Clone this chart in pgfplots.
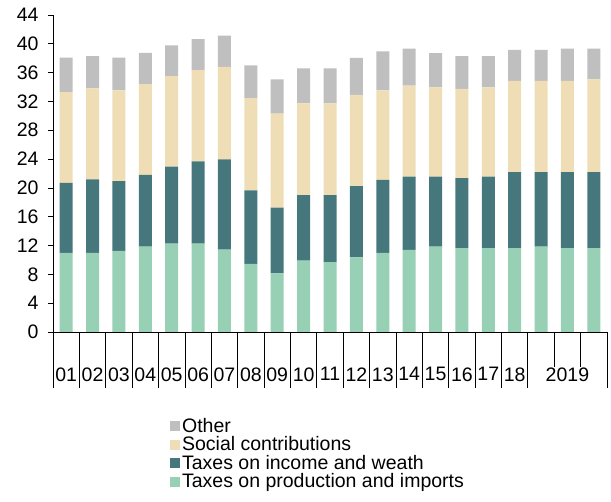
\documentclass[border=0pt]{standalone}
\usepackage{fontspec}
\setmainfont{Liberation Sans}
\usepackage{pgfplots}
\usepackage{pgfplotstable}
\pgfplotsset{compat=1.18}
\definecolor{cgreen}{HTML}{97D0B4}
\definecolor{cteal}{HTML}{46777D}
\definecolor{cbeige}{HTML}{EFDEB5}
\definecolor{cgrey}{HTML}{BFBFBF}
\pgfplotstableread{
x g t s o
0 11.0 9.7 12.6 4.8
1 11.0 10.2 12.6 4.5
2 11.25 9.7 12.6 4.55
3 11.85 9.95 12.6 4.35
4 12.25 10.7 12.55 4.3
5 12.25 11.45 12.65 4.3
6 11.45 12.5 12.85 4.35
7 9.45 10.2 12.8 4.55
8 8.15 9.1 13.05 4.75
9 9.9 9.1 12.75 4.85
10 9.7 9.3 12.75 4.85
11 10.35 9.9 12.65 5.15
12 11.0 10.1 12.45 5.4
13 11.4 10.15 12.65 5.15
14 11.85 9.7 12.4 4.75
15 11.65 9.7 12.4 4.55
16 11.65 9.9 12.4 4.35
17 11.65 10.55 12.65 4.3
18 11.85 10.35 12.65 4.3
19 11.65 10.55 12.65 4.5
20 11.65 10.55 12.85 4.3
}\data
\begin{document}
\begin{tikzpicture}
\path[use as bounding box] (-53bp,-170bp) rectangle (558bp,332bp);
\begin{axis}[at={(0,0)}, anchor=south west, scale only axis,
  width=554bp, height=317bp,
  ybar stacked, bar width=13bp,
  xmin=-0.5, xmax=20.5, ymin=0, ymax=44,
  ytick={0,4,...,44},
  axis x line*=bottom, axis y line*=left,
  axis line style={black, line width=0.8bp},
  tick align=outside, major tick length=5bp,
  tick style={black, line width=0.8bp},
  xtick={0,...,17,19},
  xticklabels={01,02,03,04,05,06,07,08,09,10,11,12,13,14,15,16,17,18,2019},
  xtick style={draw=none},
  xticklabel style={yshift=-27bp},
  yticklabel style={xshift=-6bp},
  /pgf/number format/assume math mode=true,
  ticklabel style={font=\fontsize{19.5bp}{22bp}\selectfont},
  reverse legend,
  legend image code/.code={\fill[#1] (0bp,-5bp) rectangle (10bp,5bp);},
  legend style={at={(0.211,-0.268)}, anchor=north west, draw=none, fill=none,
    inner sep=0pt, font=\fontsize{19.5bp}{22bp}\selectfont,
    cells={anchor=west, text height=13bp, text depth=3bp, inner ysep=2bp, inner xsep=1bp},
    row sep=0pt},
]
\addplot[fill=cgreen, draw=none] table[x=x, y=g] {\data};
\addplot[fill=cteal, draw=none] table[x=x, y=t] {\data};
\addplot[fill=cbeige, draw=none] table[x=x, y=s] {\data};
\addplot[fill=cgrey, draw=none] table[x=x, y=o] {\data};
\legend{Taxes on production and imports, Taxes on income and weath, Social contributions, Other}
\end{axis}
\begin{axis}[at={(0,0)}, anchor=south west, scale only axis,
  width=554bp, height=317bp,
  xmin=-0.5, xmax=20.5, ymin=0, ymax=44,
  hide y axis, axis x line*=bottom,
  axis line style={black, line width=0.8bp},
  xtick={-0.5,0.5,...,17.5,20.5}, xticklabels={},
  minor xtick={18.5,19.5},
  tick align=outside, major tick length=56bp, minor tick length=35bp,
  tick style={black, line width=0.8bp},
]
\addplot[draw=none, forget plot] coordinates {(0,0)};
\end{axis}
\end{tikzpicture}
\end{document}
